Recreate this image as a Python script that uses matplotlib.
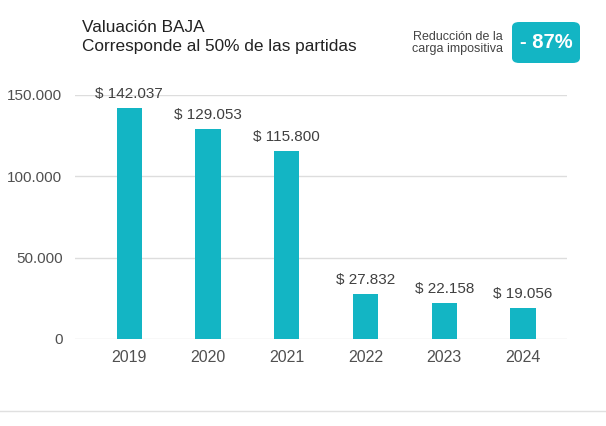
import matplotlib.pyplot as plt
from matplotlib.patches import FancyBboxPatch

plt.rcParams['font.family'] = ['Liberation Sans', 'DejaVu Sans']

years = ['2019', '2020', '2021', '2022', '2023', '2024']
valores = [142037, 129053, 115800, 27832, 22158, 19056]
etiquetas = ['$ 142.037', '$ 129.053', '$ 115.800', '$ 27.832', '$ 22.158', '$ 19.056']
yticks = [0, 50000, 100000, 150000]
ytick_labels = ['0', '50.000', '100.000', '150.000']

teal = '#13b5c4'
gris = '#404040'

fig = plt.figure(figsize=(6.06, 4.26), dpi=100)
ax = fig.add_axes([75 / 606, 1 - 339 / 426, 492 / 606, 244 / 426])

x = range(len(years))
ax.bar(x, valores, width=0.32, color=teal, zorder=3)
for i, (v, t) in enumerate(zip(valores, etiquetas)):
    ax.annotate(t, (i, v), xytext=(0, 5), textcoords='offset points',
                ha='center', va='bottom', fontsize=11, color=gris)

ax.set_xlim(-0.69, 5.56)
ax.set_ylim(0, 150000)
ax.set_yticks(yticks)
ax.set_yticklabels(ytick_labels)
ax.set_xticks(list(x))
ax.set_xticklabels(years)
ax.tick_params(axis='both', length=0, labelsize=11, colors='#505050')
ax.tick_params(axis='x', labelsize=11.5)
ax.tick_params(axis='y', pad=9)
ax.tick_params(axis='x', pad=8)
ax.grid(axis='y', color='#dddddd', linewidth=1, zorder=0)
for s in ax.spines.values():
    s.set_visible(False)

fig.text(82 / 606, 1 - 27 / 426, 'Valuación BAJA', fontsize=12.4, color='#222222', va='center')
fig.text(82 / 606, 1 - 47 / 426, 'Corresponde al 50% de las partidas', fontsize=12.4,
         color='#222222', va='center')

fig.text(503 / 606, 1 - 43 / 426, 'Reducción de la\ncarga impositiva', fontsize=9,
         color='#444444', ha='right', va='center', linespacing=1.0)
badge = FancyBboxPatch((512 / 606, 1 - 63 / 426), 68 / 606, 41 / 426,
                       boxstyle='round,pad=0,rounding_size=0.012',
                       transform=fig.transFigure, facecolor=teal, edgecolor='none')
fig.patches.append(badge)
fig.text(546 / 606, 1 - 43 / 426, '- 87%', fontsize=14.5, fontweight='bold',
         color='white', ha='center', va='center')

fig.add_artist(plt.Line2D([0, 1], [1 - 411 / 426, 1 - 411 / 426],
                          transform=fig.transFigure, color='#e0e0e0', linewidth=1))

fig.savefig('out.png', dpi=100)
